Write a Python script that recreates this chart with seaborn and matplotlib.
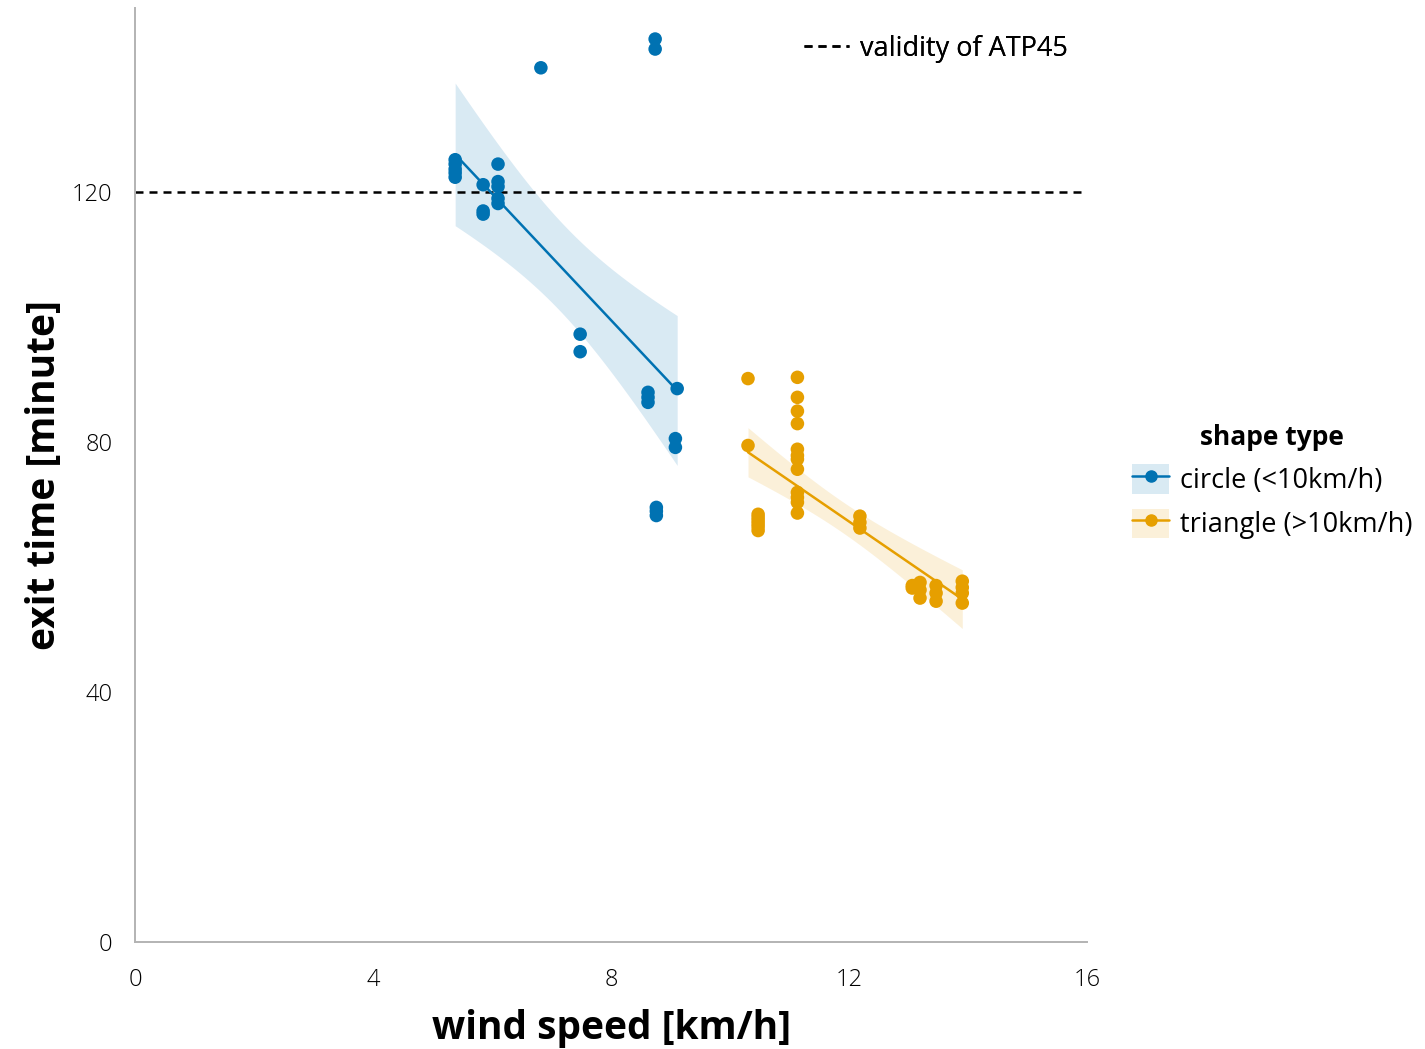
import numpy as np
import pandas as pd
import matplotlib
matplotlib.use("Agg")
import matplotlib.pyplot as plt
import seaborn as sns
from matplotlib.patches import Patch
from matplotlib.lines import Line2D

# ---- data ----
circle_speed = [5.38, 5.38, 5.38, 5.38, 5.38,
                5.85, 5.85, 5.85,
                6.1, 6.1, 6.1, 6.1, 6.1,
                6.82,
                7.48, 7.48,
                8.62, 8.62, 8.62,
                8.74, 8.74,
                8.76, 8.76, 8.76,
                9.08, 9.08,
                9.11]
circle_time = [125.1, 124.4, 123.6, 123.0, 122.3,
               121.1, 116.9, 116.4,
               124.4, 121.6, 120.8, 118.9, 118.1,
               139.8,
               97.2, 94.4,
               87.9, 87.1, 86.3,
               144.4, 142.8,
               69.5, 68.9, 68.2,
               80.5, 79.1,
               88.5]
triangle_speed = [10.3, 10.3,
                  10.47, 10.47, 10.47, 10.47, 10.47, 10.47,
                  11.13, 11.13, 11.13, 11.13, 11.13, 11.13, 11.13, 11.13,
                  11.13, 11.13, 11.13, 11.13,
                  12.18, 12.18, 12.18,
                  13.06, 13.06,
                  13.19, 13.19, 13.19,
                  13.46, 13.46, 13.46,
                  13.9, 13.9, 13.9, 13.9]
triangle_time = [90.1, 79.4,
                 68.4, 67.9, 67.4, 66.9, 66.4, 65.8,
                 90.3, 87.1, 84.9, 82.9, 78.8, 77.8, 77.2, 75.6,
                 71.9, 71.1, 70.3, 68.6,
                 68.1, 67.1, 66.2,
                 57.0, 56.6,
                 57.5, 56.3, 55.0,
                 57.0, 55.8, 54.5,
                 57.7, 56.7, 55.8, 54.2]
group_labels = ["circle (<10km/h)", "triangle (>10km/h)"]
validity_limit = 120
x_ticks = [0, 4, 8, 12, 16]
y_ticks = [0, 40, 80, 120]

df = pd.DataFrame({
    "wind speed": circle_speed + triangle_speed,
    "exit time": circle_time + triangle_time,
    "shape type": [group_labels[0]] * len(circle_speed) + [group_labels[1]] * len(triangle_speed),
})

colors = {group_labels[0]: "#0072B2", group_labels[1]: "#E69F00"}
DASH = (0, (3.2, 2.4))

sns.set_theme(style="white")
plt.rcParams["font.family"] = ["Open Sans", "DejaVu Sans"]
plt.rcParams["text.color"] = "black"
plt.rcParams["axes.labelcolor"] = "black"

fig = plt.figure(figsize=(14.25, 10.49), dpi=100)
ax = fig.add_axes([0.0947, 0.102, 0.763 - 0.0947, 0.992 - 0.102])


def ols_band(x, y, grid):
    x = np.asarray(x, float)
    y = np.asarray(y, float)
    n = len(x)
    b1, b0 = np.polyfit(x, y, 1)
    resid = y - (b0 + b1 * x)
    s = np.sqrt(np.sum(resid ** 2) / (n - 2))
    sxx = np.sum((x - x.mean()) ** 2)
    dof = n - 2
    t = 1.96 + 2.4 / dof  # approx 97.5% t-quantile
    fit = b0 + b1 * grid
    half = t * s * np.sqrt(1.0 / n + (grid - x.mean()) ** 2 / sxx)
    return fit - half, fit + half


for g in group_labels:
    sub = df[df["shape type"] == g]
    sns.regplot(data=sub, x="wind speed", y="exit time", ax=ax, ci=None,
                scatter=False, color=colors[g], truncate=True,
                line_kws=dict(lw=1.8, zorder=2))
    grid = np.linspace(sub["wind speed"].min(), sub["wind speed"].max(), 100)
    lo, hi = ols_band(sub["wind speed"], sub["exit time"], grid)
    ax.fill_between(grid, lo, hi, color=colors[g], alpha=0.15, lw=0, zorder=1)

sns.scatterplot(data=df, x="wind speed", y="exit time", hue="shape type",
                palette=colors, s=95, linewidth=0, ax=ax, legend=False, zorder=3)

ax.axhline(validity_limit, color="black", ls=DASH, lw=1.8, zorder=1.5)

ax.set_xlim(0, 16)
ax.set_ylim(0, 149.3)
ax.set_xticks(x_ticks)
ax.set_yticks(y_ticks)
ax.set_xlabel("wind speed [km/h]", fontsize=28, fontweight="bold", labelpad=12, color="black")
ax.set_ylabel("exit time [minute]", fontsize=28, fontweight="bold", labelpad=6, color="black")
for s in ["top", "right"]:
    ax.spines[s].set_visible(False)
for s in ["left", "bottom"]:
    ax.spines[s].set_color("#b3b3b3")
    ax.spines[s].set_linewidth(1.4)
ax.tick_params(axis="both", which="major", direction="out", length=11, width=1.4,
               color="#b3b3b3", labelsize=17, labelcolor="black")
ax.tick_params(axis="y", pad=5)
ax.tick_params(axis="x", pad=8)
for lab in ax.get_xticklabels() + ax.get_yticklabels():
    lab.set_fontweight("light")

# legend for validity line
val_handle = Line2D([], [], color="black", ls=DASH, lw=1.8)
leg1 = ax.legend([val_handle], ["validity of ATP45"], loc="upper right",
                 bbox_to_anchor=(1.005, 0.998), frameon=False, fontsize=19.5,
                 handlelength=1.65, handletextpad=0.4, labelcolor="black")
ax.add_artist(leg1)

# legend for shape type
handles = []
for g in group_labels:
    handles.append((Patch(facecolor=colors[g], alpha=0.15, edgecolor="none"),
                    Line2D([], [], color=colors[g], lw=1.8, marker="o", markersize=8)))
leg2 = fig.legend(handles, group_labels, title="shape type", loc="center left",
                  bbox_to_anchor=(0.7775, 0.541), frameon=False, fontsize=19.5,
                  title_fontproperties={"weight": "bold", "size": 19},
                  handlelength=1.35, handleheight=1.3, handletextpad=0.4, labelspacing=0.5,
                  labelcolor="black")
leg2.get_title().set_color("black")

fig.savefig("out.png", dpi=100)
